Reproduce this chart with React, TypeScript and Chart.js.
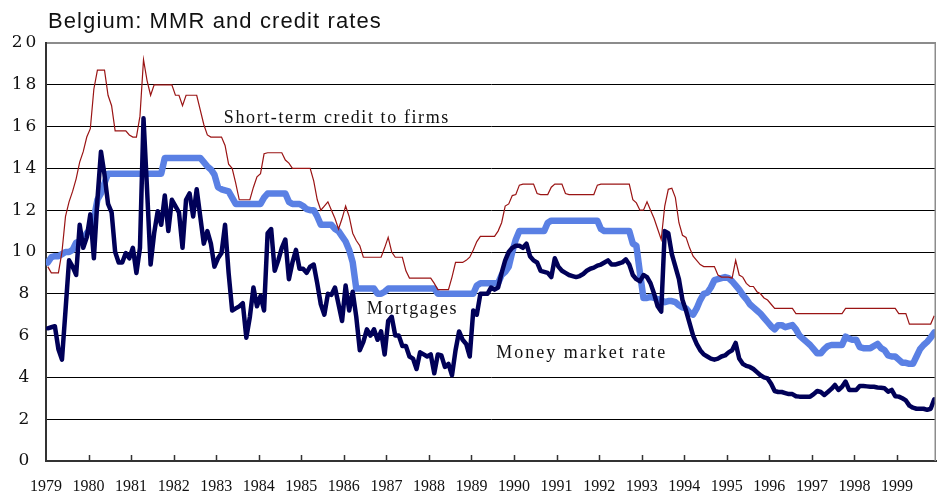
import React, { useEffect, useRef } from "react";
import { Chart, registerables } from "chart.js";

Chart.register(...registerables);

const TITLE = "Belgium: MMR and credit rates";
const START_YEAR = 1979;
const MONTH_COUNT = 251; // Jan 1979 - Nov 1999
const YEAR_LABELS = [
  "1979", "1980", "1981", "1982", "1983", "1984", "1985", "1986", "1987", "1988", "1989",
  "1990", "1991", "1992", "1993", "1994", "1995", "1996", "1997", "1998", "1999",
];
const Y_MIN = 0;
const Y_MAX = 20;
const Y_STEP = 2;

// Short-term credit to firms (monthly, %)
const CREDIT_RATE = [
  9.3, 9.0, 9.0, 9.0, 10.0, 11.7, 12.4, 12.9, 13.5, 14.3, 14.8, 15.5, // 1979
  15.9, 17.8, 18.7, 18.7, 18.7, 17.5, 17.0, 15.8, 15.8, 15.8, 15.8, 15.6, // 1980
  15.5, 15.5, 16.5, 19.2, 18.2, 17.5, 18.0, 18.0, 18.0, 18.0, 18.0, 18.0, // 1981
  17.5, 17.5, 17.0, 17.5, 17.5, 17.5, 17.5, 16.8, 16.1, 15.6, 15.5, 15.5, // 1982
  15.5, 15.5, 15.1, 14.2, 14.0, 13.3, 12.5, 12.5, 12.5, 12.5, 13.1, 13.6, // 1983
  13.75, 14.7, 14.75, 14.75, 14.75, 14.75, 14.75, 14.4, 14.25, 14.0, 14.0, 14.0, // 1984
  14.0, 14.0, 14.0, 13.4, 12.5, 12.0, 12.2, 12.4, 12.0, 11.6, 11.1, 11.6, // 1985
  12.2, 11.7, 10.9, 10.55, 10.3, 9.75, 9.75, 9.75, 9.75, 9.75, 9.75, 10.2, // 1986
  10.7, 10.0, 9.75, 9.75, 9.75, 9.1, 8.75, 8.75, 8.75, 8.75, 8.75, 8.75, // 1987
  8.75, 8.5, 8.2, 8.2, 8.2, 8.2, 8.8, 9.5, 9.5, 9.5, 9.6, 9.75, // 1988
  10.1, 10.5, 10.75, 10.75, 10.75, 10.75, 10.75, 11.0, 11.4, 12.2, 12.3, 12.7, // 1989
  12.75, 13.2, 13.25, 13.25, 13.25, 13.25, 12.8, 12.75, 12.75, 12.75, 13.1, 13.25, // 1990
  13.25, 13.25, 12.8, 12.75, 12.75, 12.75, 12.75, 12.75, 12.75, 12.75, 12.75, 13.2, // 1991
  13.25, 13.25, 13.25, 13.25, 13.25, 13.25, 13.25, 13.25, 13.25, 12.5, 12.35, 12.0, // 1992
  12.0, 12.4, 12.0, 11.6, 11.1, 10.6, 12.2, 13.0, 13.05, 12.6, 11.4, 10.8, // 1993
  10.7, 10.2, 9.8, 9.6, 9.4, 9.3, 9.3, 9.3, 9.3, 8.9, 8.8, 8.8, // 1994
  8.8, 8.75, 9.6, 8.9, 8.8, 8.5, 8.35, 8.35, 8.1, 8.0, 7.8, 7.7, // 1995
  7.5, 7.3, 7.3, 7.3, 7.3, 7.3, 7.3, 7.05, 7.05, 7.05, 7.05, 7.05, // 1996
  7.05, 7.05, 7.05, 7.05, 7.05, 7.05, 7.05, 7.05, 7.05, 7.3, 7.3, 7.3, // 1997
  7.3, 7.3, 7.3, 7.3, 7.3, 7.3, 7.3, 7.3, 7.3, 7.3, 7.3, 7.3, // 1998
  7.05, 7.05, 7.05, 6.55, 6.55, 6.55, 6.55, 6.55, 6.55, 6.55, 6.95, // 1999
];

// Mortgages (monthly, %)
const MORTGAGE_RATE = [
  9.5, 9.75, 9.8, 9.8, 9.9, 10.0, 10.0, 10.1, 10.45, 10.5, 10.6, 10.9, // 1979
  11.1, 11.6, 12.5, 12.8, 13.3, 13.75, 13.75, 13.75, 13.75, 13.75, 13.75, 13.75, // 1980
  13.75, 13.75, 13.75, 13.75, 13.75, 13.75, 13.75, 13.75, 13.75, 14.5, 14.5, 14.5, // 1981
  14.5, 14.5, 14.5, 14.5, 14.5, 14.5, 14.5, 14.5, 14.3, 14.1, 13.95, 13.7, // 1982
  13.1, 13.0, 12.95, 12.9, 12.6, 12.3, 12.3, 12.3, 12.3, 12.3, 12.3, 12.3, // 1983
  12.3, 12.6, 12.8, 12.8, 12.8, 12.8, 12.8, 12.8, 12.4, 12.3, 12.3, 12.3, // 1984
  12.2, 12.05, 12.0, 12.0, 11.7, 11.3, 11.3, 11.3, 11.3, 11.1, 11.0, 10.75, // 1985
  10.5, 10.1, 9.5, 8.25, 8.25, 8.25, 8.25, 8.25, 8.25, 8.0, 8.0, 8.1, // 1986
  8.25, 8.25, 8.25, 8.25, 8.25, 8.25, 8.25, 8.25, 8.25, 8.25, 8.25, 8.25, // 1987
  8.25, 8.25, 8.0, 8.0, 8.0, 8.0, 8.0, 8.0, 8.0, 8.0, 8.0, 8.0, // 1988
  8.0, 8.4, 8.5, 8.5, 8.5, 8.5, 8.5, 8.5, 8.9, 9.05, 9.3, 10.0, // 1989
  10.6, 11.0, 11.0, 11.0, 11.0, 11.0, 11.0, 11.0, 11.0, 11.4, 11.5, 11.5, // 1990
  11.5, 11.5, 11.5, 11.5, 11.5, 11.5, 11.5, 11.5, 11.5, 11.5, 11.5, 11.5, // 1991
  11.1, 11.0, 11.0, 11.0, 11.0, 11.0, 11.0, 11.0, 11.0, 10.4, 10.3, 9.0, // 1992
  7.8, 7.8, 7.85, 7.8, 7.75, 7.7, 7.6, 7.65, 7.65, 7.6, 7.45, 7.35, // 1993
  7.3, 7.1, 7.0, 7.3, 7.7, 8.0, 8.05, 8.3, 8.65, 8.7, 8.75, 8.8, // 1994
  8.75, 8.6, 8.4, 8.2, 7.95, 7.75, 7.5, 7.35, 7.2, 7.05, 6.85, 6.65, // 1995
  6.45, 6.3, 6.5, 6.5, 6.4, 6.45, 6.5, 6.3, 6.0, 5.85, 5.7, 5.55, // 1996
  5.35, 5.15, 5.15, 5.35, 5.5, 5.55, 5.55, 5.55, 5.55, 5.95, 5.85, 5.8, // 1997
  5.8, 5.45, 5.4, 5.4, 5.4, 5.5, 5.6, 5.4, 5.3, 5.05, 5.0, 5.0, // 1998
  4.85, 4.7, 4.7, 4.65, 4.65, 5.0, 5.35, 5.55, 5.7, 5.9, 6.15, // 1999
];

// Money market rate (monthly, %)
const MONEY_MARKET_RATE = [
  6.35, 6.4, 6.45, 5.35, 4.85, 7.2, 9.6, 9.3, 8.9, 11.3, 10.2, 10.7, // 1979
  11.8, 9.7, 12.5, 14.8, 13.7, 12.3, 11.9, 10.0, 9.5, 9.5, 9.95, 9.7, // 1980
  10.2, 9.0, 10.2, 16.4, 13.0, 9.4, 10.9, 11.95, 11.3, 12.7, 11.0, 12.5, // 1981
  12.2, 11.9, 10.2, 12.5, 12.8, 11.7, 13.0, 11.7, 10.4, 11.0, 10.4, 9.3, // 1982
  9.7, 9.95, 11.3, 9.0, 7.2, 7.3, 7.4, 7.55, 5.9, 6.9, 8.3, 7.4, // 1983
  7.9, 7.2, 10.9, 11.1, 9.1, 9.6, 10.2, 10.6, 8.7, 9.5, 10.1, 9.2, // 1984
  9.2, 9.0, 9.3, 9.4, 8.5, 7.5, 7.0, 8.0, 7.95, 8.3, 7.5, 6.7, // 1985
  8.4, 7.2, 8.1, 6.9, 5.3, 5.7, 6.3, 6.0, 6.3, 5.8, 6.2, 5.1, // 1986
  6.7, 6.9, 6.0, 6.0, 5.5, 5.5, 5.0, 4.9, 4.4, 5.2, 5.1, 5.0, // 1987
  5.1, 4.2, 5.1, 5.05, 4.5, 4.65, 4.1, 5.3, 6.2, 5.8, 5.6, 5.0, // 1988
  7.2, 7.0, 8.0, 8.0, 8.0, 8.3, 8.2, 8.3, 9.0, 9.6, 10.0, 10.2, // 1989
  10.3, 10.3, 10.2, 10.4, 9.8, 9.6, 9.5, 9.1, 9.05, 9.0, 8.8, 9.7, // 1990
  9.3, 9.1, 9.0, 8.9, 8.85, 8.8, 8.85, 8.95, 9.1, 9.2, 9.25, 9.35, // 1991
  9.4, 9.5, 9.6, 9.4, 9.4, 9.45, 9.5, 9.65, 9.4, 8.9, 8.7, 8.6, // 1992
  8.9, 8.8, 8.5, 8.0, 7.4, 7.15, 11.0, 10.9, 9.9, 9.3, 8.7, 7.7, // 1993
  7.2, 6.6, 6.0, 5.6, 5.3, 5.1, 5.0, 4.9, 4.85, 4.9, 5.0, 5.05, // 1994
  5.2, 5.3, 5.65, 4.9, 4.65, 4.55, 4.5, 4.4, 4.25, 4.1, 4.0, 3.95, // 1995
  3.7, 3.35, 3.3, 3.3, 3.25, 3.2, 3.2, 3.1, 3.08, 3.08, 3.08, 3.08, // 1996
  3.2, 3.35, 3.3, 3.16, 3.3, 3.45, 3.64, 3.4, 3.55, 3.8, 3.4, 3.4, // 1997
  3.4, 3.59, 3.59, 3.57, 3.55, 3.55, 3.52, 3.5, 3.48, 3.32, 3.4, 3.1, // 1998
  3.08, 3.0, 2.9, 2.65, 2.55, 2.5, 2.5, 2.5, 2.45, 2.5, 2.95, // 1999
];

// In-chart series labels: text, x (year), y (rate) of the text's left baseline
const SERIES_LABEL_TEXT = ["Short-term credit to firms", "Mortgages", "Money market rate"];
const SERIES_LABEL_X = [1983.18, 1986.54, 1989.58];
const SERIES_LABEL_Y = [16.17, 7.03, 4.91];

const toPoints = (values: number[]) =>
  values.map((v, i) => ({ x: START_YEAR + (i + 0.5) / 12, y: v }));

const decorPlugin = {
  id: "decor",
  afterDraw(chart: any) {
    const { ctx, chartArea: a, scales } = chart;
    const xs = scales.x;
    const ys = scales.y;
    ctx.save();
    // right frame line
    ctx.strokeStyle = "#8c8c8c";
    ctx.lineWidth = 1.5;
    ctx.beginPath();
    ctx.moveTo(a.right - 0.75, a.top);
    ctx.lineTo(a.right - 0.75, a.bottom);
    ctx.stroke();
    // inside tick marks on the x axis
    ctx.strokeStyle = "#333";
    ctx.lineWidth = 1.5;
    ctx.beginPath();
    xs.ticks.forEach((t: any) => {
      if (Number.isInteger(t.value) && t.value > xs.min) {
        const px = Math.round(xs.getPixelForValue(t.value)) + 0.5;
        ctx.moveTo(px, a.bottom);
        ctx.lineTo(px, a.bottom - 6);
      }
    });
    ctx.stroke();
    // y tick labels
    ctx.fillStyle = "#111";
    ctx.font = '17px "DejaVu Serif"';
    ctx.letterSpacing = "3px";
    ctx.textAlign = "center";
    ctx.textBaseline = "middle";
    ys.ticks.forEach((t: any) => {
      ctx.fillText(String(t.value), 25.5, ys.getPixelForValue(t.value));
    });
    // series labels
    ctx.font = '18px "Liberation Serif"';
    ctx.letterSpacing = "1.6px";
    ctx.textAlign = "left";
    ctx.textBaseline = "alphabetic";
    SERIES_LABEL_TEXT.forEach((txt, k) => {
      const sp = k === 2 ? "2px" : "1.6px";
      ctx.letterSpacing = sp;
      ctx.fillText(txt, xs.getPixelForValue(SERIES_LABEL_X[k]), ys.getPixelForValue(SERIES_LABEL_Y[k]));
    });
    // title
    ctx.font = '22px "Liberation Sans"';
    ctx.letterSpacing = "1.1px";
    ctx.fillText(TITLE, 48, 28);
    ctx.restore();
  },
};

export default function App() {
  const canvasRef = useRef<HTMLCanvasElement | null>(null);

  useEffect(() => {
    if (!canvasRef.current) return;
    const chart = new Chart(canvasRef.current, {
      type: "line",
      data: {
        datasets: [
          {
            label: "Money market rate",
            data: toPoints(MONEY_MARKET_RATE),
            borderColor: "#000058",
            borderWidth: 4.5,
            pointRadius: 0,
            borderJoinStyle: "round",
            borderCapStyle: "round",
            order: 0,
          },
          {
            label: "Short-term credit to firms",
            data: toPoints(CREDIT_RATE),
            borderColor: "#9a1414",
            borderWidth: 1.2,
            pointRadius: 0,
            order: 1,
          },
          {
            label: "Mortgages",
            data: toPoints(MORTGAGE_RATE),
            borderColor: "#5a80e4",
            borderWidth: 6.5,
            pointRadius: 0,
            borderJoinStyle: "round",
            borderCapStyle: "round",
            order: 2,
          },
        ],
      },
      options: {
        animation: false,
        responsive: false,
        devicePixelRatio: 1,
        layout: { padding: { top: 43, right: 1, left: 0, bottom: 0 } },
        plugins: {
          legend: { display: false },
          tooltip: { enabled: false },
          title: { display: false },
        },
        elements: { line: { tension: 0 } },
        scales: {
          x: {
            type: "linear",
            min: START_YEAR,
            max: START_YEAR + MONTH_COUNT / 12,
            afterFit: (s: any) => {
              s.height = 36;
              s.paddingRight = 0;
            },
            grid: { display: true, drawOnChartArea: false, drawTicks: false },
            border: { display: true, color: "#333", width: 2 },
            ticks: {
              stepSize: 1,
              includeBounds: false,
              autoSkip: false,
              maxRotation: 0,
              padding: 16,
              color: "#111",
              font: { family: "Liberation Serif", size: 16 },
              callback: (v: any) => {
                const n = Number(v);
                if (!Number.isInteger(n)) return "";
                return YEAR_LABELS[n - START_YEAR] ?? "";
              },
            },
          },
          y: {
            min: Y_MIN,
            max: Y_MAX,
            afterFit: (s: any) => {
              s.width = 46;
            },
            grid: {
              drawTicks: false,
              color: (c: any) => (c.tick && c.tick.value === Y_MAX ? "#8c8c8c" : "#000"),
              lineWidth: (c: any) => (c.tick && c.tick.value === Y_MAX ? 2 : 1),
            },
            border: { display: true, color: "#333", width: 2 },
            ticks: { stepSize: Y_STEP, display: false },
          },
        },
      },
      plugins: [decorPlugin],
    } as any);
    return () => chart.destroy();
  }, []);

  return (
    <div style={{ position: "fixed", left: 0, top: 0, width: 937, height: 497, background: "#fff" }}>
      <canvas ref={canvasRef} width={937} height={497} style={{ display: "block" }} />
    </div>
  );
}
